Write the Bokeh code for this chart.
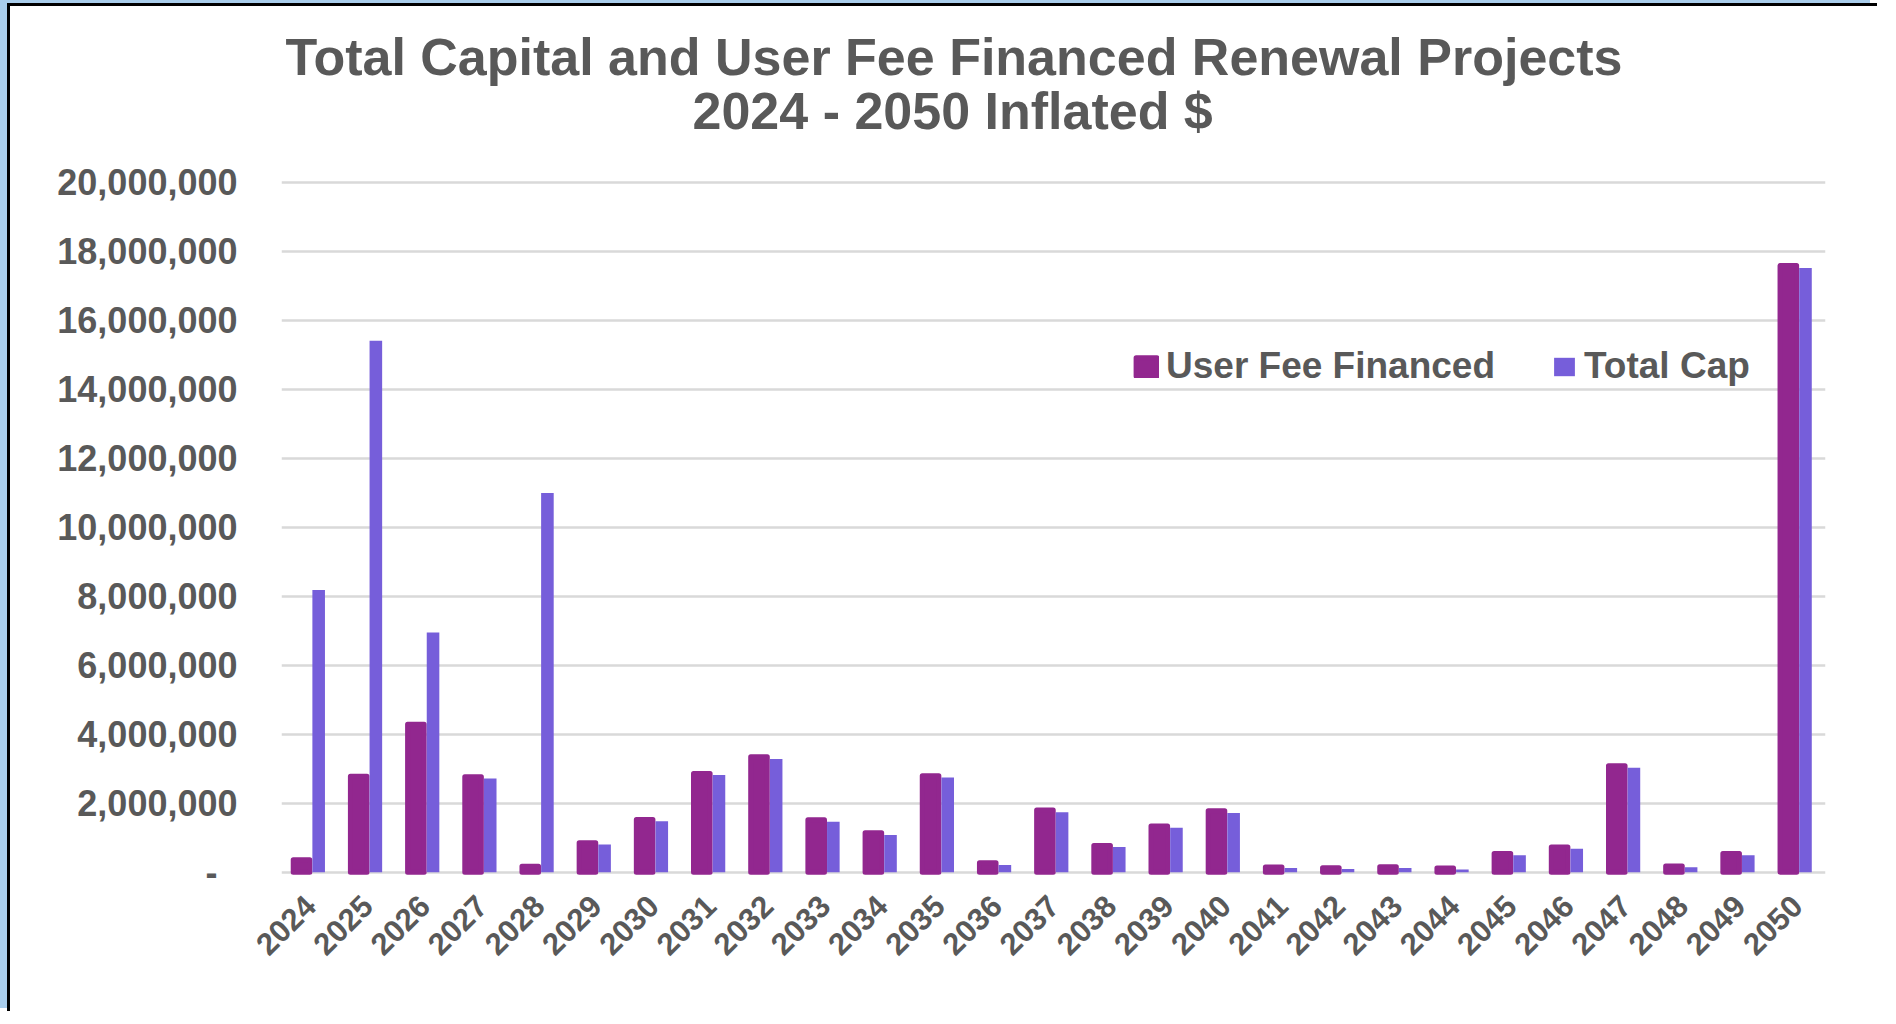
import math
from bokeh.plotting import figure
from bokeh.models import (ColumnDataSource, FactorRange, Range1d, FixedTicker,
                          NumeralTickFormatter, Legend, LegendItem, Title)
from bokeh.transform import dodge
from bokeh.embed import file_html
from bokeh.resources import INLINE

years = [str(y) for y in range(2024, 2051)]
user_fee = [0.36, 2.78, 4.29, 2.77, 0.17, 0.85, 1.53, 2.86, 3.35, 1.52, 1.14, 2.80, 0.27, 1.80,
            0.77, 1.34, 1.78, 0.15, 0.13, 0.16, 0.12, 0.54, 0.73, 3.09, 0.18, 0.54, 17.60]
total_cap = [8.19, 15.42, 6.95, 2.72, 11.00, 0.80, 1.48, 2.82, 3.28, 1.46, 1.08, 2.75, 0.21, 1.74,
             0.73, 1.29, 1.72, 0.12, 0.09, 0.12, 0.08, 0.49, 0.68, 3.03, 0.14, 0.49, 17.53]
y_ticks = list(range(0, 20000001, 2000000))
title_lines = ["Total Capital and User Fee Financed Renewal Projects", "2024 - 2050 Inflated $"]
series_names = ["User Fee Financed", "Total Cap"]

PURPLE = "#92278F"
BLUE = "#765EDA"
TXT = "#595959"
FONT = "Liberation Sans"

src = ColumnDataSource(dict(
    year=years,
    uf=[v * 1e6 for v in user_fee],
    tc=[v * 1e6 for v in total_cap],
))

p = figure(width=1870, height=1008, x_range=FactorRange(*years),
           y_range=Range1d(-300000, 20300000),
           output_backend="svg", toolbar_location=None,
           min_border_left=271, min_border_right=55, min_border_top=166, min_border_bottom=132)
p.outline_line_color = None
p.background_fill_color = "white"
p.border_fill_color = "white"
# slide frame: black line with a light blue strip outside it (left and top)
p.styles = {"margin-left": "7px", "margin-top": "3px",
            "border-left": "3px solid black", "border-top": "3px solid black",
            "box-shadow": "-7px -3px 0 0 #A9CDEB"}

r1 = p.vbar(x=dodge("year", -0.15, range=p.x_range), top="uf", bottom=0, width=0.29, source=src,
            fill_color=PURPLE, line_color=PURPLE, line_width=5, line_join="round")
r2 = p.vbar(x=dodge("year", 0.15, range=p.x_range), top="tc", bottom=0, width=0.22, source=src,
            fill_color=BLUE, line_color=None)

# axes
p.yaxis.ticker = FixedTicker(ticks=y_ticks)
p.yaxis.formatter = NumeralTickFormatter(format="0,0")
p.yaxis.major_label_overrides = {0: "-\u00a0\u00a0"}
p.yaxis.axis_line_color = None
p.yaxis.major_tick_line_color = None
p.yaxis.minor_tick_line_color = None
p.yaxis.major_tick_out = 0
p.yaxis.major_tick_in = 0
p.yaxis.major_label_standoff = 44
p.yaxis.major_label_text_font = FONT
p.yaxis.major_label_text_font_style = "bold"
p.yaxis.major_label_text_font_size = "36px"
p.yaxis.major_label_text_color = TXT

p.xaxis.axis_line_color = None
p.xaxis.major_tick_line_color = None
p.xaxis.minor_tick_line_color = None
p.xaxis.major_tick_out = 0
p.xaxis.major_tick_in = 0
p.xaxis.major_label_orientation = math.pi / 4
p.xaxis.major_label_standoff = 18
p.xaxis.major_label_text_font = FONT
p.xaxis.major_label_text_font_style = "bold"
p.xaxis.major_label_text_font_size = "31px"
p.xaxis.major_label_text_color = TXT

p.xgrid.grid_line_color = None
p.ygrid.ticker = FixedTicker(ticks=y_ticks)
p.ygrid.grid_line_color = "#D9D9D9"
p.ygrid.grid_line_width = 2.5

# title (two lines): nearest to frame first
p.add_layout(Title(text=title_lines[1], align="left", offset=411, standoff=66,
                   text_font=FONT, text_font_style="bold", text_font_size="52px",
                   text_color=TXT), "above")
p.add_layout(Title(text=title_lines[0], align="left", offset=4, standoff=-78,
                   text_font=FONT, text_font_style="bold", text_font_size="52px",
                   text_color=TXT), "above")

legend = Legend(items=[LegendItem(label=series_names[0], renderers=[r1]),
                       LegendItem(label=series_names[1], renderers=[r2])],
                location=(852, 495), orientation="horizontal",
                glyph_width=26, glyph_height=23, label_standoff=7, spacing=56,
                padding=0, margin=0, border_line_color=None, background_fill_alpha=0,
                label_text_font=FONT, label_text_font_style="bold",
                label_text_font_size="37px", label_text_color=TXT)
p.add_layout(legend)

open("out.html", "w").write(file_html(p, INLINE))
